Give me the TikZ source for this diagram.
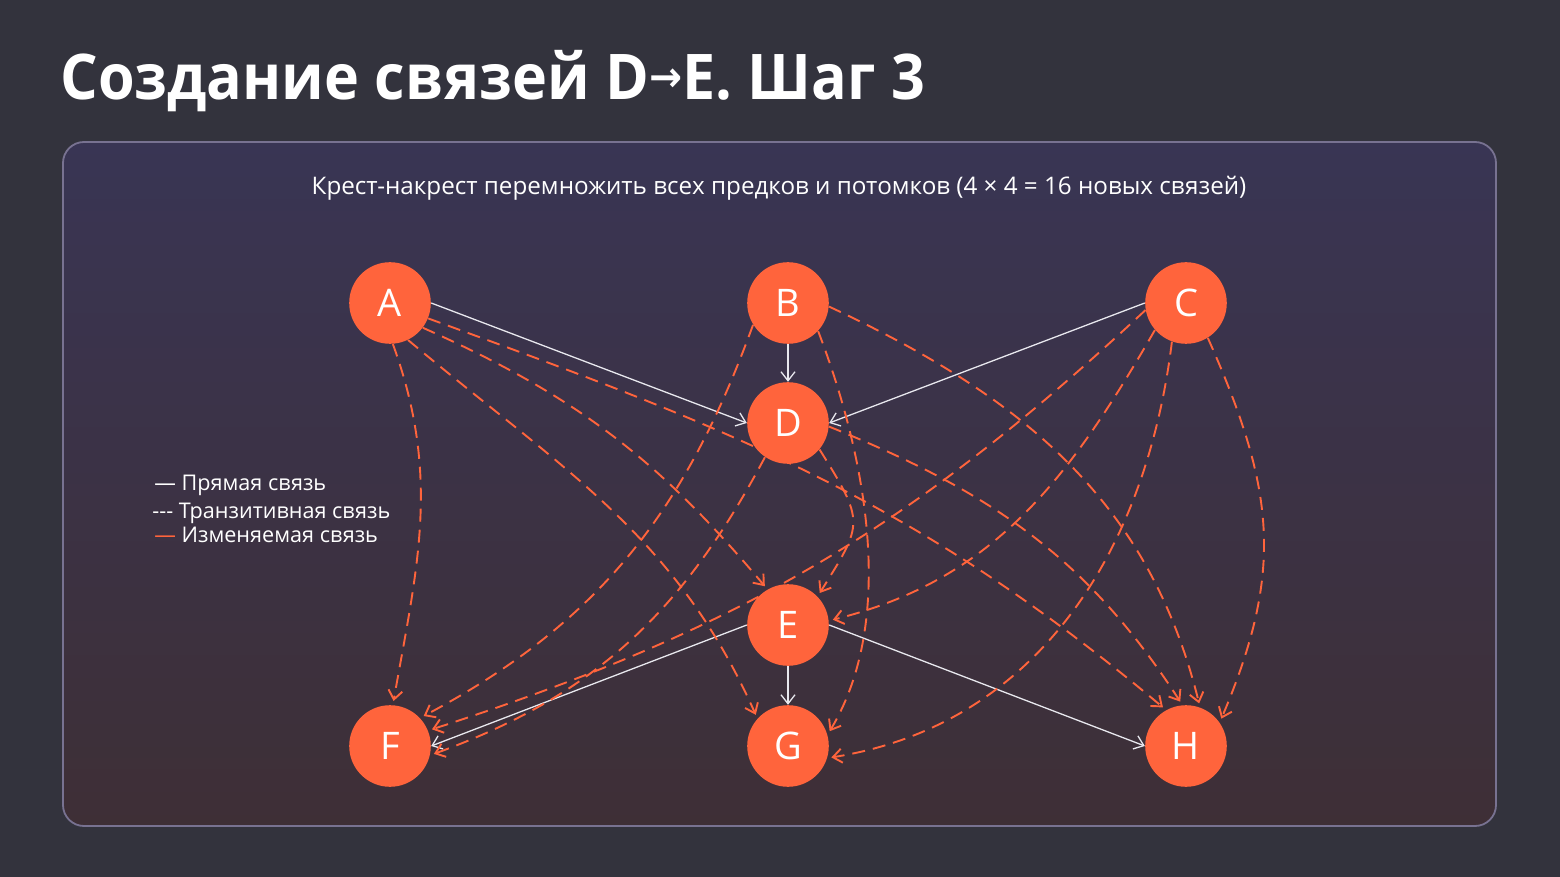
\documentclass[tikz,border=0pt]{standalone}
\usepackage{fontspec}
\setmainfont{Open Sans}
\newfontfamily\arrowfont{DejaVu Sans}
\usetikzlibrary{arrows.meta}
\definecolor{bgc}{RGB}{51,51,61}
\definecolor{paneltop}{RGB}{57,53,84}
\definecolor{panelmid}{RGB}{49,46,60}
\definecolor{panelbot}{RGB}{62,47,54}
\definecolor{panelline}{RGB}{120,114,145}
\definecolor{nodeor}{RGB}{255,100,60}
\definecolor{linew}{RGB}{232,232,238}
\pgfdeclarelayer{bglayer}
\pgfdeclarelayer{edgelayer}
\pgfsetlayers{bglayer,edgelayer,main}
\tikzset{
  vtx/.style={circle, fill=nodeor, minimum size=40.8pt, inner sep=0pt, text=white,
    font=\fontsize{19}{19}\selectfont},
  direct/.style={draw=linew, line width=0.65pt, -{Straight Barb[length=4.5pt,width=7pt]}},
  trans/.style={draw=nodeor, line width=0.95pt, dash pattern=on 6.5pt off 4pt,
    shorten >=2pt, -{Straight Barb[length=4.5pt,width=7pt]}},
  legendtext/.style={anchor=base west, inner sep=0pt, text=white,
    font=\fontsize{10.8}{12}\selectfont},
}
\begin{document}
\begin{tikzpicture}[x=0.5pt,y=0.5pt]
\useasboundingbox (0,0) rectangle (1560,-877);
\begin{pgfonlayer}{bglayer}
  \fill[bgc] (0,0) rectangle (1560,-877);
  \shade[rounded corners=10.5pt, top color=paneltop, middle color=panelmid, bottom color=panelbot]
    (63,-142) rectangle (1496,-826);
  \draw[panelline, line width=0.9pt, rounded corners=10.5pt] (63,-142) rectangle (1496,-826);
\end{pgfonlayer}

% title and subtitle
\node[anchor=base west, inner sep=0pt, text=white, font=\fontsize{31.5}{34}\selectfont\bfseries] (title) at (60,-100)
  {\scalebox{0.94}[1]{Создание связей D\raisebox{4pt}{\arrowfont\fontsize{21}{21}\selectfont →}E. Шаг 3}};
\node[anchor=base, inner sep=0pt, text=white, font=\fontsize{12.1}{14}\selectfont] (sub) at (779,-195)
  {Крест-накрест перемножить всех предков и потомков (4 × 4 = 16 новых связей)};

% legend
\node[legendtext] (l1) at (154,-490) {— Прямая связь};
\node[legendtext] (l2) at (152,-518) {-{}-{}- Транзитивная связь};
\node[legendtext] (l3) at (154,-543) {{\color{nodeor}—} Изменяемая связь};

% vertices
\node[vtx] (A) at (390,-303) {A};
\node[vtx] (B) at (788,-303) {B};
\node[vtx] (C) at (1186,-303) {C};
\node[vtx] (D) at (788,-423) {D};
\node[vtx] (E) at (788,-625) {E};
\node[vtx] (F) at (390,-746) {F};
\node[vtx] (G) at (788,-746) {G};
\node[vtx] (H) at (1186,-746) {H};

\begin{pgfonlayer}{edgelayer}
  % direct links
  \draw[direct] (A.east) -- (D.west);
  \draw[direct] (B.south) -- (D.north);
  \draw[direct] (C.west) -- (D.east);
  \draw[direct] (E.west) -- (F.east);
  \draw[direct] (E.south) -- (G.north);
  \draw[direct] (E.east) -- (H.west);
  % transitive links
  \draw[trans] (A.-86) to[out=-70, in=80] (F.86);
  \draw[trans] (A.-37) to[out=-24, in=130] (E.120);
  \draw[trans] (A.-64) to[out=-40, in=114] (G.138);
  \draw[trans] (A.-22) to[out=-20, in=140] (H.119);
  \draw[trans] (B.-148) to[out=-110, in=28] (F.43);
  \draw[trans] (B.-43) to[out=-69, in=59, looseness=0.85] (G.16);
  \draw[trans] (B.-5) to[out=-25, in=104] (H.70);
  \draw[trans] (C.-139) to[out=-120, in=14] (E.6);
  \draw[trans] (C.-170) to[out=-137, in=18] (F.22);
  \draw[trans] (C.-110) to[out=-97, in=9] (G.-17);
  \draw[trans] (C.-58) to[out=-66, in=67, looseness=1.1] (H.35);
  \draw[trans] (D.-40) to[out=-58, in=58, looseness=1.5] (E.44);
  \draw[trans] (D.-124) to[out=-118, in=20] (F.-13);
  \draw[trans] (D.-5) to[out=-22, in=123] (H.95);
\end{pgfonlayer}
\end{tikzpicture}
\end{document}
